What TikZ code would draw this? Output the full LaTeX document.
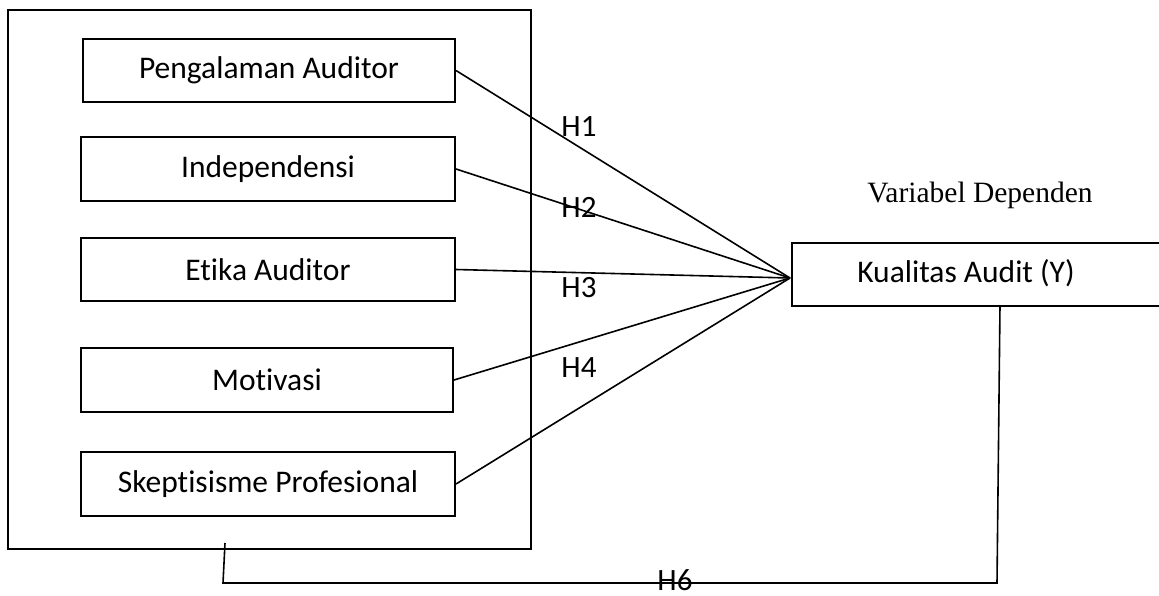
\documentclass[tikz,border=0pt]{standalone}
\usepackage{fontspec}
\setmainfont{Carlito}[Ligatures={NoCommon}]
\newfontfamily\serifface{Liberation Serif}
\begin{document}
\begin{tikzpicture}[x=1pt,y=-1pt,
  varbox/.style={draw,line width=2pt,inner sep=0pt,anchor=north west,font=\fontsize{31.5}{36}\selectfont},
  hlabel/.style={inner sep=0pt,font=\fontsize{31}{36}\selectfont},
  conn/.style={line width=1.6pt}]
\useasboundingbox (0,0) rectangle (1159,595);
\clip (0,0) rectangle (1159,595);
\node[varbox,minimum width=523pt,minimum height=539pt] (outer) at (7,9) {};
\node[varbox,minimum width=372pt,minimum height=63pt] (b1) at (82,38) {Pengalaman Auditor};
\node[varbox,minimum width=374pt,minimum height=64pt] (b2) at (80,136) {Independensi};
\node[varbox,minimum width=374pt,minimum height=63pt] (b3) at (80,237) {Etika Auditor};
\node[varbox,minimum width=372pt,minimum height=64pt] (b4) at (80,347) {Motivasi};
\node[varbox,minimum width=374pt,minimum height=64pt] (b5) at (80,451) {Skeptisisme Profesional};
\node[varbox,minimum width=372pt,minimum height=63pt] (ky) at (791,242) {};
\node[inner sep=0pt,font=\fontsize{31.5}{36}\selectfont] (kytext) at (966,273) {Kualitas Audit (Y)};
\node[inner sep=0pt,font=\serifface\fontsize{29.5}{34}\selectfont] (vd) at (980,195) {Variabel Dependen};
\coordinate (hub) at (790,278);
\draw[conn] (b1.east) -- (hub);
\draw[conn] (b2.east) -- (hub);
\draw[conn] (b3.east) -- (hub);
\draw[conn] (b4.east) -- (hub);
\draw[conn] (b5.east) -- (hub);
\node[hlabel] (h1) at (579,127) {H1};
\node[hlabel] (h2) at (579,207) {H2};
\node[hlabel] (h3) at (579,288) {H3};
\node[hlabel] (h4) at (579,368) {H4};
\coordinate (t1) at (225,543);
\coordinate (t2) at (223,583);
\coordinate (t3) at (997,583);
\coordinate (t4) at (1000,305);
\draw[conn] (t1) -- (t2) -- (t3) -- (t4);
\node[hlabel] (h6) at (675,580) {H6};
\end{tikzpicture}
\end{document}
